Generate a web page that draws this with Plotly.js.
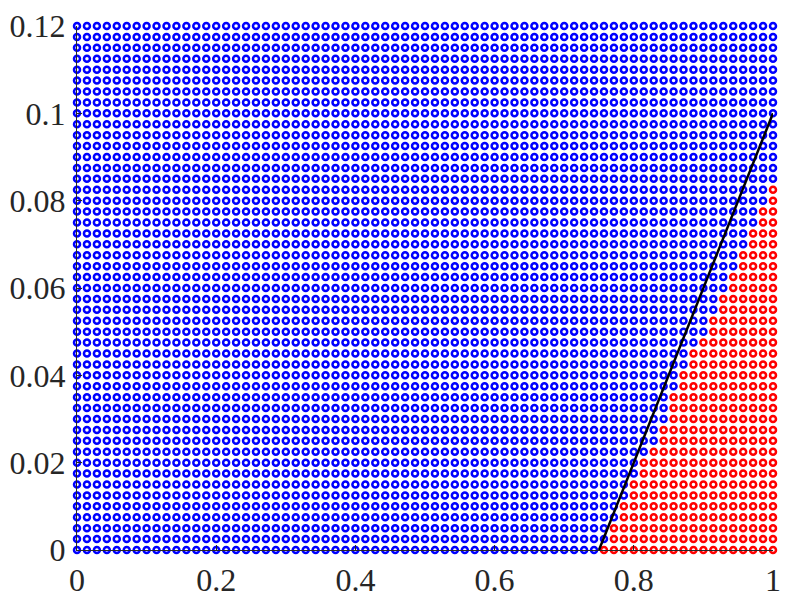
<!DOCTYPE html>
<html>
<head>
<meta charset="utf-8">
<script src="https://cdn.plot.ly/plotly-3.0.1.min.js"></script>
<style>html,body{margin:0;padding:0;background:#fff;}#chart{width:797px;height:603px;}</style>
</head>
<body>
<div id="chart"></div>
<script>
// Grid of sampled parameter points (71 columns on [0,1], 49 rows on [0,0.12])
const gridCols = 71;
const gridRows = 49;
const xMax = 1;
const yMax = 0.12;
// For each row (bottom to top), index of first column marked red (rows above have none)
const redStartCol = [53,54,54,55,55,56,56,57,57,58,59,59,60,60,60,61,61,62,62,63,64,64,65,65,66,66,67,67,68,68,69,69,70,70];
// Boundary line
const lineX = [0.75, 1];
const lineY = [0, 0.1];
const xTickVals = [0, 0.2, 0.4, 0.6, 0.8, 1];
const xTickText = ['0', '0.2', '0.4', '0.6', '0.8', '1'];
const yTickVals = [0, 0.02, 0.04, 0.06, 0.08, 0.1, 0.12];
const yTickText = ['0', '0.02', '0.04', '0.06', '0.08', '0.1', '0.12'];

const blueX = [], blueY = [], redX = [], redY = [];
for (let j = 0; j < gridRows; j++) {
  const y = yMax * j / (gridRows - 1);
  const start = j < redStartCol.length ? redStartCol[j] : gridCols;
  for (let i = 0; i < gridCols; i++) {
    const x = xMax * i / (gridCols - 1);
    if (i >= start) { redX.push(x); redY.push(y); }
    else { blueX.push(x); blueY.push(y); }
  }
}

const mk = (c) => ({symbol: 'circle-open', size: 6, color: c, line: {width: 2.5, color: c}});
const data = [
  {x: blueX, y: blueY, type: 'scatter', mode: 'markers', marker: mk('#0000ff'), cliponaxis: false, hoverinfo: 'none'},
  {x: redX, y: redY, type: 'scatter', mode: 'markers', marker: mk('#ff0000'), cliponaxis: false, hoverinfo: 'none'},
  {x: lineX, y: lineY, type: 'scatter', mode: 'lines', line: {color: '#000000', width: 2.5}, cliponaxis: false, hoverinfo: 'none'}
];
const fontFam = 'Liberation Serif, DejaVu Serif, serif';
const layout = {
  width: 797, height: 603,
  margin: {l: 77, r: 24, t: 26, b: 53, pad: 0},
  paper_bgcolor: '#ffffff', plot_bgcolor: '#ffffff',
  showlegend: false,
  xaxis: {range: [0, 1], tickvals: xTickVals, ticktext: xTickText, ticks: 'inside', ticklen: 5, tickwidth: 1, tickcolor: '#262626',
          showline: true, linecolor: '#262626', linewidth: 1, showgrid: false, zeroline: false, layer: 'above traces',
          tickfont: {family: fontFam, size: 32, color: '#262626'}, ticklabelstandoff: 2},
  yaxis: {range: [0, 0.12], tickvals: yTickVals, ticktext: yTickText, ticks: 'inside', ticklen: 5, tickwidth: 1, tickcolor: '#262626',
          showline: true, linecolor: '#262626', linewidth: 1, showgrid: false, zeroline: false, layer: 'above traces',
          tickfont: {family: fontFam, size: 32, color: '#262626'}, ticklabelstandoff: 4}
};
Plotly.newPlot('chart', data, layout, {displayModeBar: false, staticPlot: true});
</script>
</body>
</html>
